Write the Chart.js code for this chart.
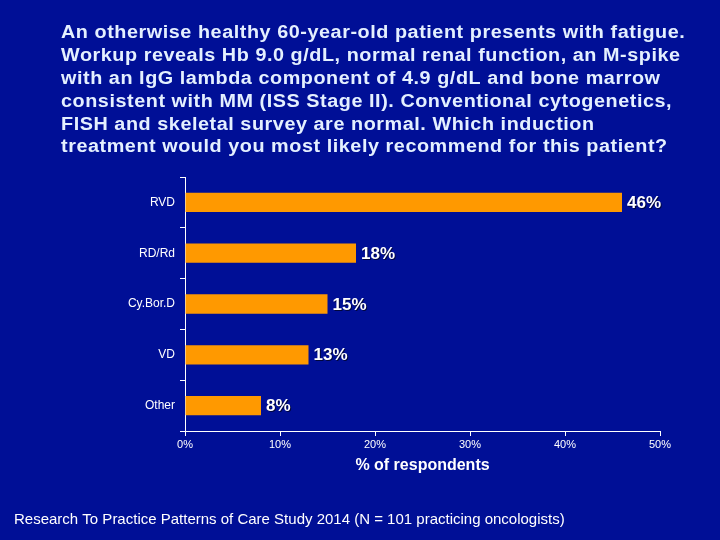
<!DOCTYPE html>
<html>
<head>
<meta charset="utf-8">
<style>
  html, body { margin: 0; padding: 0; background: #000F96; }
  #wrap { width: 720px; height: 540px; position: relative; }
</style>
<script src="https://cdn.jsdelivr.net/npm/chart.js@4/dist/chart.umd.min.js"></script>
</head>
<body>
<div id="wrap"><canvas id="barChart" width="720" height="540"></canvas></div>
<script>
"use strict";

var categories = ["RVD", "RD/Rd", "Cy.Bor.D", "VD", "Other"];
var percents = [46, 18, 15, 13, 8];
var xTicks = [0, 10, 20, 30, 40, 50];

var titleLines = [
    "An otherwise healthy 60-year-old patient presents with fatigue.",
    "Workup reveals Hb 9.0 g/dL, normal renal function, an M-spike",
    "with an IgG lambda component of 4.9 g/dL and bone marrow",
    "consistent with MM (ISS Stage II). Conventional cytogenetics,",
    "FISH and skeletal survey are normal. Which induction",
    "treatment would you most likely recommend for this patient?"
];
var footnote = "Research To Practice Patterns of Care Study 2014 (N = 101 practicing oncologists)";

var white = "#FFFFFF";

// title text at the top, footnote at the bottom
var textPlugin = {
    id: "slideText",
    afterDraw: function (chart) {
        var c = chart.ctx;
        c.save();
        c.fillStyle = "#E4F0FF";
        c.textBaseline = "middle";
        c.textAlign = "left";
        c.font = "bold 18px 'Liberation Sans', Arial, sans-serif";
        c.letterSpacing = "0.5px";
        // slide title font is a bit wider than Arial, stretch it
        c.save();
        c.translate(61, 0);
        c.scale(1.1, 1);
        titleLines.forEach(function (line, i) {
            c.fillText(line, 0, 33 + i * 22.9);
        });
        c.restore();
        c.letterSpacing = "0px";
        c.fillStyle = white;
        c.font = "15px 'Liberation Sans', Arial, sans-serif";
        c.fillText(footnote, 14, 520);
        c.restore();
    }
};

// percentage labels next to each bar
var valuePlugin = {
    id: "valueLabels",
    afterDatasetsDraw: function (chart) {
        var c = chart.ctx;
        var meta = chart.getDatasetMeta(0);
        c.save();
        c.font = "bold 17px 'Liberation Sans', Arial, sans-serif";
        c.textBaseline = "middle";
        c.textAlign = "left";
        c.shadowColor = "rgba(0,0,0,0.6)";
        c.shadowOffsetX = 1;
        c.shadowOffsetY = 1;
        c.fillStyle = white;
        meta.data.forEach(function (bar, i) {
            c.fillText(percents[i] + "%", bar.x + 5, bar.y + 1);
        });
        c.restore();
    }
};

var ctx_bar = document.getElementById("barChart").getContext("2d");

var myBarChart = new Chart(ctx_bar, {
    type: "bar",
    data: {
        labels: categories,
        datasets: [{
            data: percents,
            backgroundColor: "#FF9900",
            borderWidth: 0,
            categoryPercentage: 1,
            barPercentage: 0.38
        }]
    },
    options: {
        indexAxis: "y",
        responsive: false,
        animation: false,
        events: [],
        layout: { padding: { left: 0, top: 177, right: 60, bottom: 0 } },
        plugins: {
            legend: { display: false },
            tooltip: { enabled: false }
        },
        scales: {
            x: {
                min: xTicks[0],
                max: xTicks[xTicks.length - 1],
                afterBuildTicks: function (scale) {
                    scale.ticks = xTicks.map(function (v) { return { value: v }; });
                },
                afterFit: function (scale) { scale.height = 109; },
                border: { color: white, width: 1 },
                grid: { drawOnChartArea: false, drawTicks: true, tickLength: 5, color: white },
                ticks: {
                    color: white,
                    padding: 2,
                    font: { family: "'Liberation Sans', Arial, sans-serif", size: 11 },
                    callback: function (v) { return v + "%"; }
                },
                title: {
                    display: true,
                    text: "% of respondents",
                    color: white,
                    font: { family: "'Liberation Sans', Arial, sans-serif", size: 16, weight: "bold" },
                    padding: { top: 0, bottom: 65 }
                }
            },
            y: {
                afterFit: function (scale) { scale.width = 185; },
                border: { color: white, width: 1 },
                grid: { drawOnChartArea: false, drawTicks: true, tickLength: 5, color: white, offset: true },
                ticks: {
                    color: white,
                    padding: 5,
                    font: { family: "'Liberation Sans', Arial, sans-serif", size: 12 }
                }
            }
        }
    },
    plugins: [textPlugin, valuePlugin]
});
</script>
</body>
</html>
